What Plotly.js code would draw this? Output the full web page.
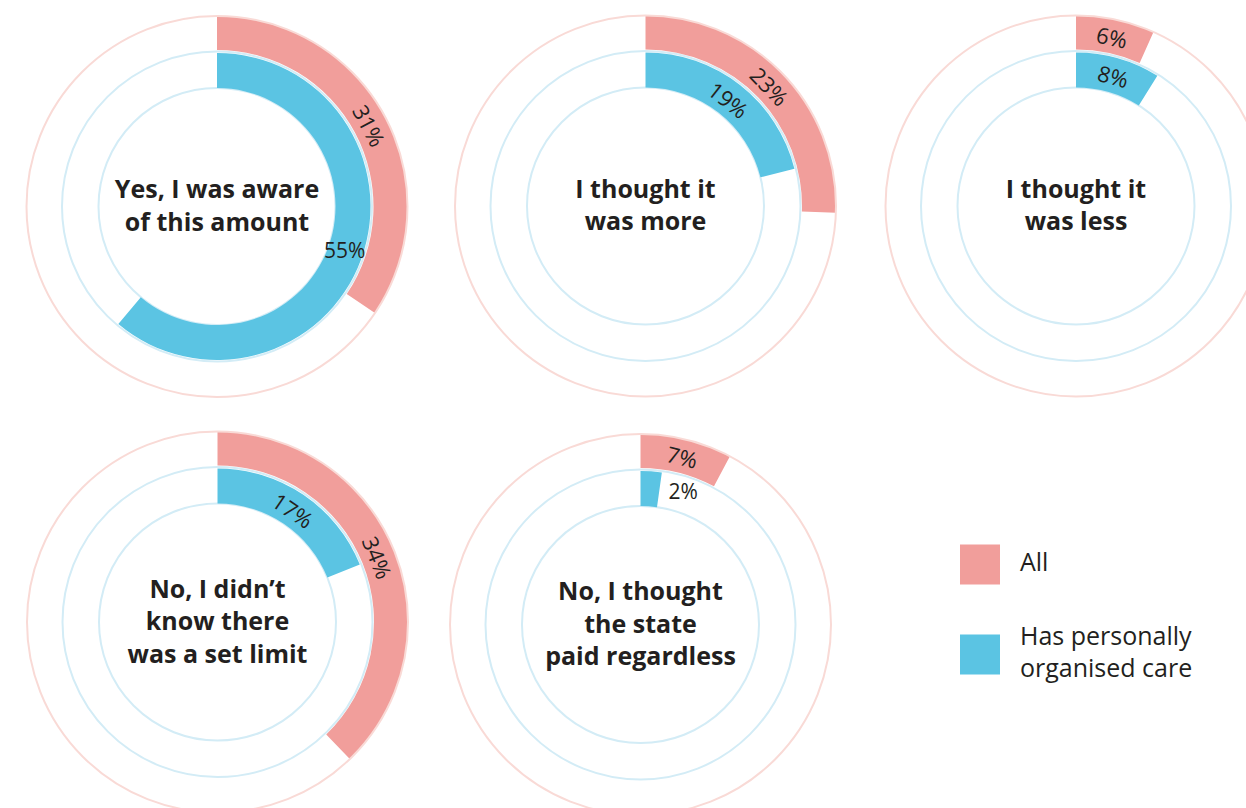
<!DOCTYPE html>
<html>
<head>
<meta charset="utf-8">
<script src="https://cdn.plot.ly/plotly-3.0.1.min.js"></script>
<style>
  html, body { margin: 0; padding: 0; overflow: hidden; background: #ffffff; }
  #chart { width: 1270px; height: 820px; }
</style>
</head>
<body>
<div id="chart"></div>
<script>
// ---- Data ----
const categories = [
  'Yes, I was aware<br>of this amount',
  'I thought it<br>was more',
  'I thought it<br>was less',
  'No, I didn’t<br>know there<br>was a set limit',
  'No, I thought<br>the state<br>paid regardless'
];
const allValues = [31, 23, 6, 34, 7];
const organisedValues = [55, 19, 8, 17, 2];
const seriesNames = ['All', 'Has personally<br>organised care'];

// ---- Style / layout ----
const W = 1270, H = 820;
const FULL_SCALE = 90;          // value that would fill a whole ring
const DEG = 360 / FULL_SCALE;
const PINK = '#F19E9B', BLUE = '#5BC4E3';
const PINK_LINE = '#F9DAD6', BLUE_LINE = '#D3ECF6';
const TEXT = '#231F20';
const FONT = '"Open Sans", Lato, sans-serif';
const LABEL_SIZE = 22;
const centers = [[217, 206.5], [645.5, 206], [1076, 206], [217.5, 622], [640.5, 624.5]];
const R_OUT = 190.5, R_PINK_IN = 156.5, R_BLUE_OUT = 153.5, R_BLUE_IN = 118.5, R_MID_LINE = 155;

function dom(c, r) {
  return { x: [(c[0] - r) / W, (c[0] + r) / W], y: [(H - c[1] - r) / H, (H - c[1] + r) / H] };
}

const traces = [];
const layout = {
  width: W, height: H,
  margin: { l: 0, r: 0, t: 0, b: 0 },
  paper_bgcolor: '#ffffff', plot_bgcolor: 'rgba(0,0,0,0)',
  showlegend: false,
  font: { family: FONT, color: TEXT }
};

categories.forEach((cat, i) => {
  const c = centers[i];
  const pid = i === 0 ? 'polar' : 'polar' + (i + 1);
  const a = allValues[i], v = organisedValues[i];
  // polar axes: reference circles + bars
  layout[pid] = {
    domain: dom(c, R_OUT),
    bgcolor: 'rgba(0,0,0,0)',
    angularaxis: { rotation: 90, direction: 'clockwise', showline: true, linecolor: PINK_LINE, linewidth: 2,
                   showgrid: false, showticklabels: false, ticks: '' },
    radialaxis: { range: [0, R_OUT], tickvals: [R_BLUE_IN, R_MID_LINE], showgrid: true, gridcolor: BLUE_LINE,
                  gridwidth: 2, showline: false, showticklabels: false, ticks: '' }
  };
  traces.push({
    type: 'barpolar', subplot: pid, name: 'All',
    theta: [a * DEG / 2], width: [a * DEG], base: [R_PINK_IN], r: [R_OUT - R_PINK_IN],
    marker: { color: PINK, line: { width: 0 } }, hoverinfo: 'skip', showlegend: false
  });
  traces.push({
    type: 'barpolar', subplot: pid, name: 'Has personally organised care',
    theta: [v * DEG / 2], width: [v * DEG], base: [R_BLUE_IN], r: [R_BLUE_OUT - R_BLUE_IN],
    marker: { color: BLUE, line: { width: 0 } }, hoverinfo: 'skip', showlegend: false
  });
  const small = v < 4;            // too small: label beside the slice
  const large = v * DEG > 180;    // very long arc: label at its middle
  const lr = [], lt = [], ltx = [];
  if (small) { lr.push((R_BLUE_IN + R_BLUE_OUT) / 2 + 2); lt.push(v * DEG + 10); ltx.push(v + '%'); }
  if (large) { lr.push((R_BLUE_IN + R_BLUE_OUT) / 2); lt.push(v * DEG / 2); ltx.push(v + '%'); }
  traces.push({
    type: 'scatterpolar', subplot: pid, mode: 'text',
    r: lr, theta: lt, text: ltx,
    textfont: { family: FONT, size: LABEL_SIZE - 1, color: TEXT },
    hoverinfo: 'skip', showlegend: false, cliponaxis: false
  });

  // transparent rings carrying the tangential value labels and the centre title
  traces.push({
    type: 'pie', sort: false, direction: 'clockwise', rotation: 0,
    values: [a, FULL_SCALE - a], labels: ['All', 'rest'],
    hole: R_PINK_IN / R_OUT, domain: dom(c, R_OUT),
    marker: { colors: ['rgba(0,0,0,0)', 'rgba(0,0,0,0)'], line: { width: 0 } },
    text: [a + '%', ''], textinfo: 'text',
    textposition: ['inside', 'none'], insidetextorientation: 'tangential',
    textfont: { family: FONT, size: LABEL_SIZE, color: TEXT },
    hoverinfo: 'skip', showlegend: false
  });
  traces.push({
    type: 'pie', sort: false, direction: 'clockwise', rotation: 0,
    values: [v, FULL_SCALE - v], labels: ['Has personally organised care', 'rest2'],
    hole: R_BLUE_IN / R_BLUE_OUT, domain: dom(c, R_BLUE_OUT),
    marker: { colors: ['rgba(0,0,0,0)', 'rgba(0,0,0,0)'], line: { width: 0 } },
    text: [v + '%', ''], textinfo: 'text',
    textposition: [(small || large) ? 'none' : 'inside', 'none'],
    insidetextorientation: 'tangential',
    textfont: { family: FONT, size: LABEL_SIZE, color: TEXT },
    title: { text: '<b>' + cat + '</b>', position: 'middle center',
             font: { family: FONT, size: 25, color: TEXT } },
    hoverinfo: 'skip', showlegend: false
  });
});

// legend as square markers on a hidden axis
const legY = seriesNames.map((_, k) => seriesNames.length - 1 - k);
traces.push({
  type: 'scatter', xaxis: 'x', yaxis: 'y', mode: 'markers',
  x: seriesNames.map(() => 0), y: legY,
  marker: { symbol: 'square', size: 40, color: [PINK, BLUE], line: { width: 0 } },
  cliponaxis: false, hoverinfo: 'skip', showlegend: false
});
traces.push({
  type: 'scatter', xaxis: 'x', yaxis: 'y', mode: 'text',
  x: seriesNames.map(() => 1), y: legY,
  text: seriesNames, textposition: 'middle right',
  textfont: { family: FONT, size: 25, color: TEXT },
  cliponaxis: false, hoverinfo: 'skip', showlegend: false
});
layout.xaxis = { domain: [960 / W, 1240 / W], range: [-0.5, 6.5], visible: false, fixedrange: true };
layout.yaxis = { domain: [(H - 699.5) / H, (H - 519.5) / H], range: [-0.5, 1.5], visible: false, fixedrange: true };

Plotly.newPlot('chart', traces, layout, { staticPlot: true, displayModeBar: false });
</script>
</body>
</html>
